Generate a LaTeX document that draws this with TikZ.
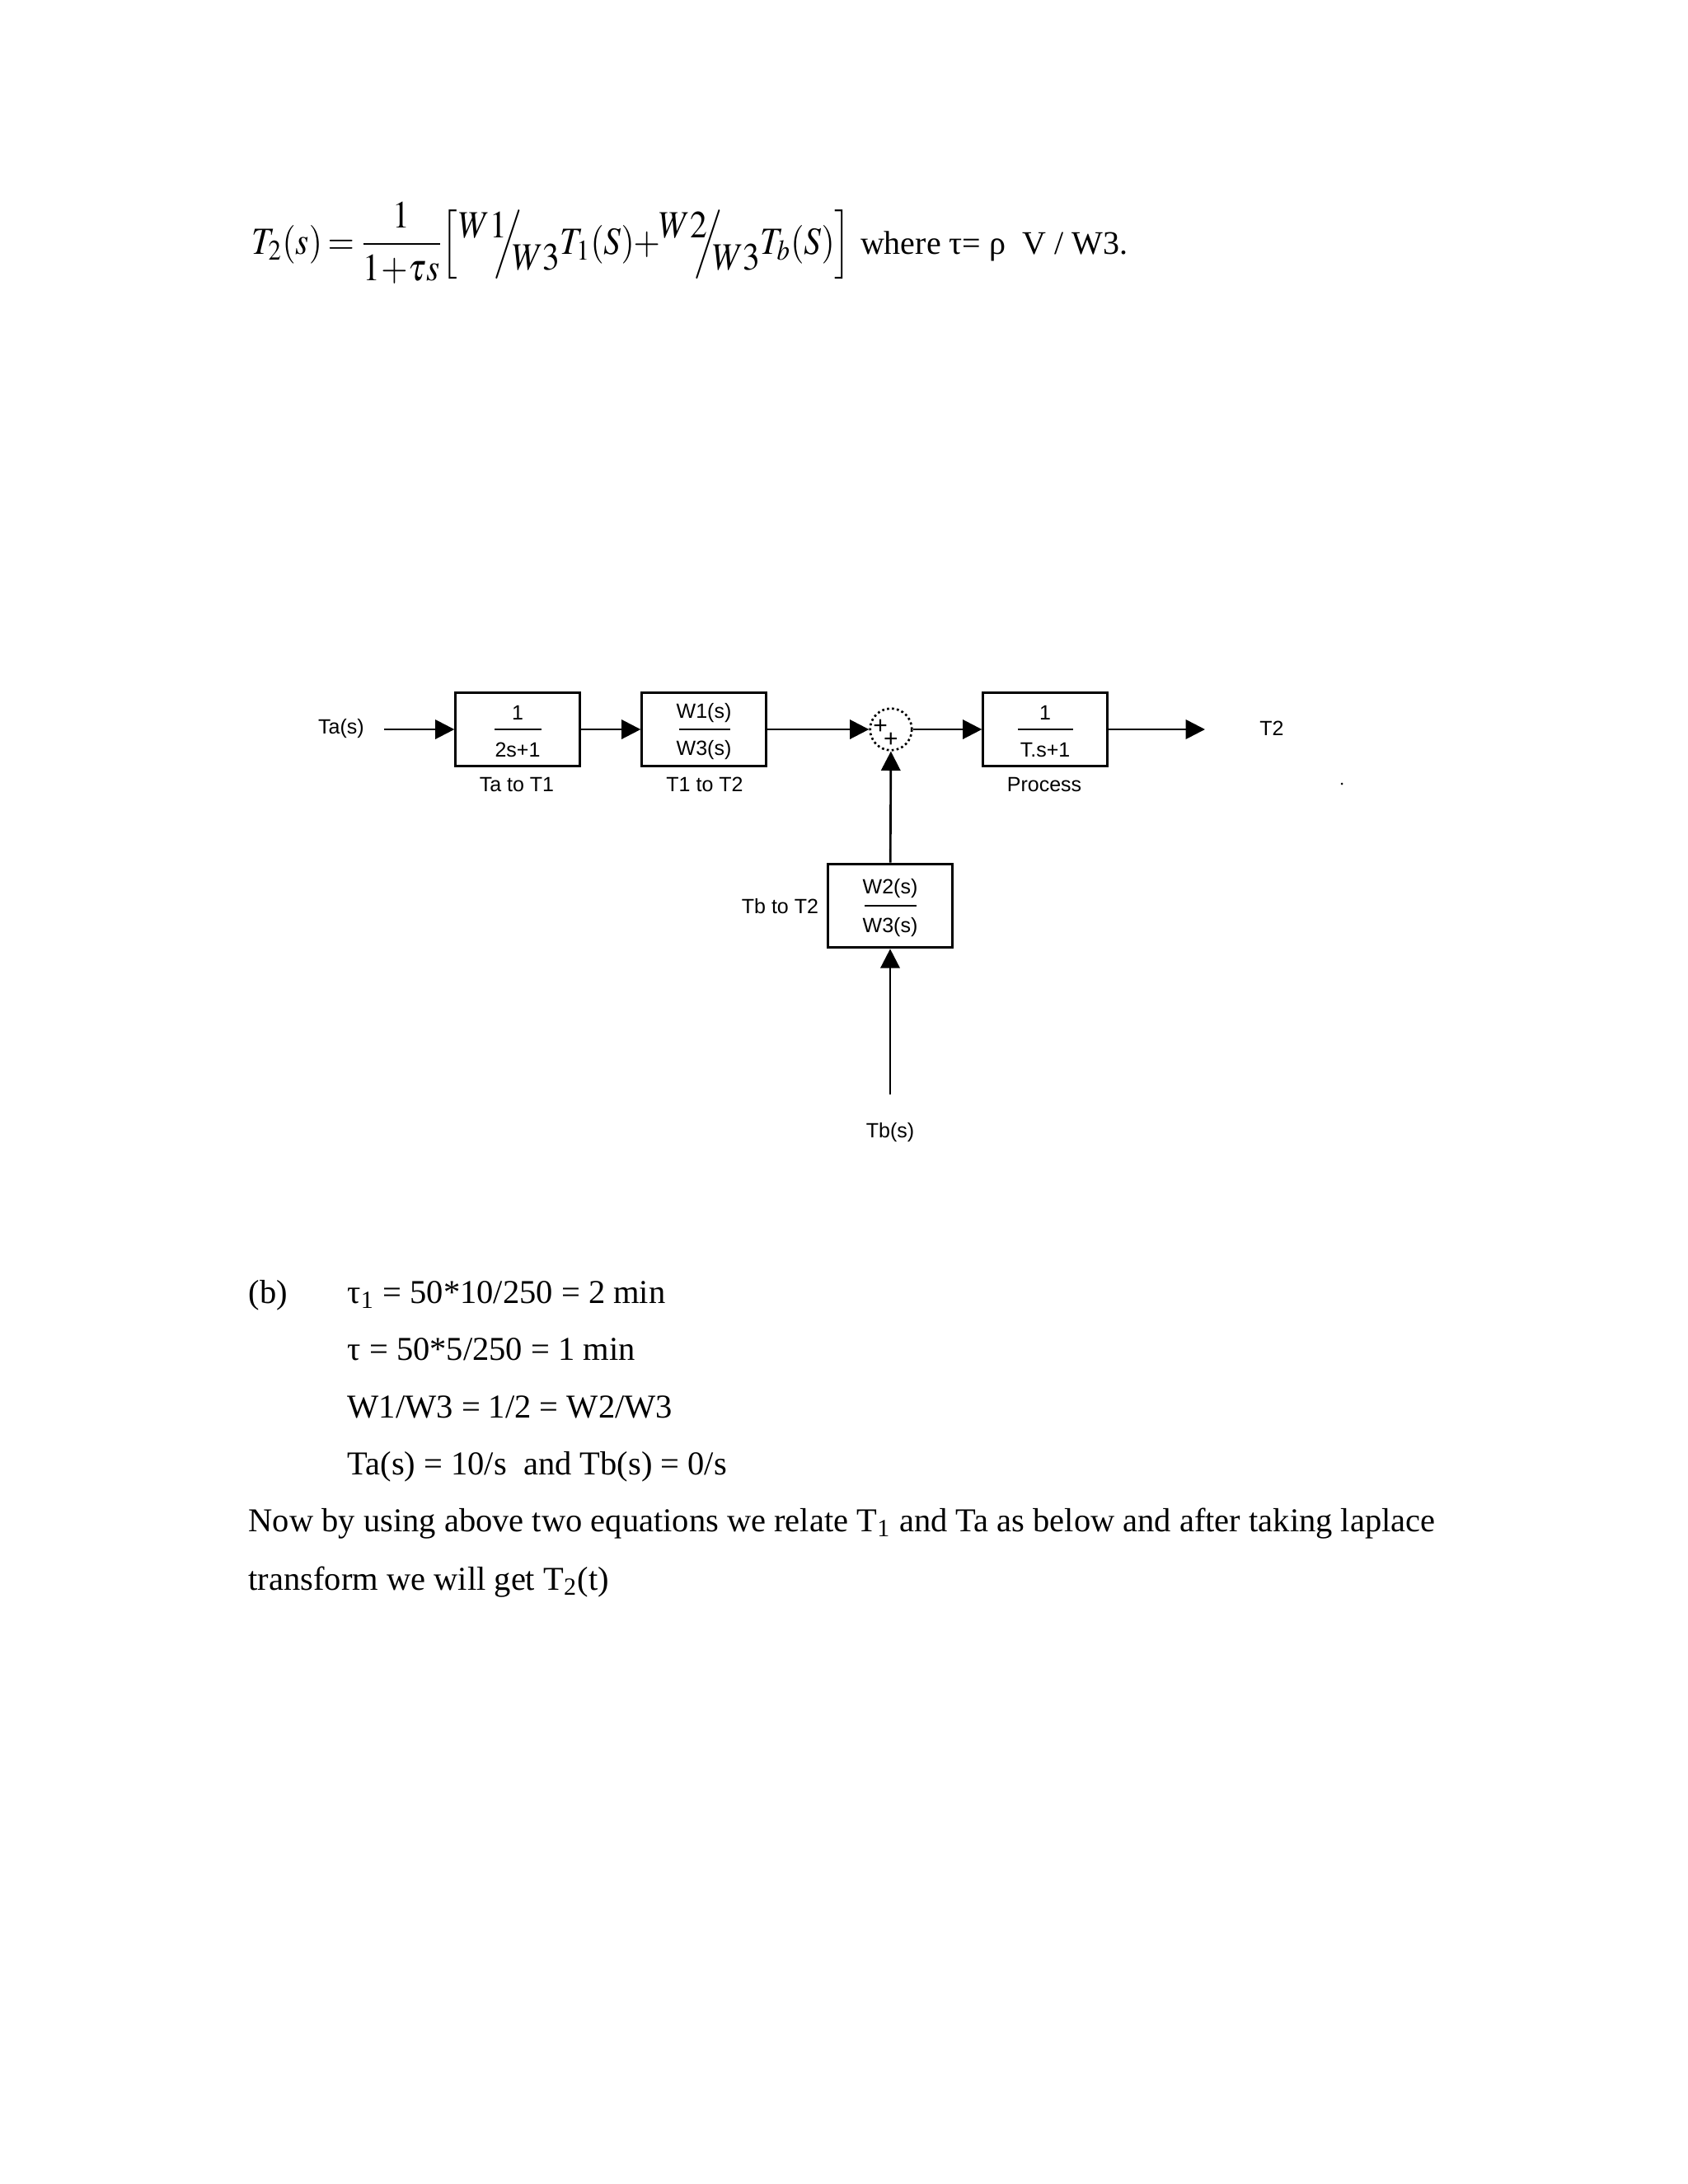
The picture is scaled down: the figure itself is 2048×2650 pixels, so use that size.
\documentclass[tikz,border=0pt]{standalone}
\usepackage{amsmath}
\usepackage{mathptmx}
\usepackage{fontspec}
\setmainfont{Liberation Serif}
\setsansfont{Liberation Sans}
\usetikzlibrary{arrows.meta}

\newcommand{\wfrac}[2]{\raisebox{0.9ex}{$#1$}\mkern-7mu\Big/\mkern-5mu\raisebox{-0.9ex}{$#2$}}

\tikzset{
  blk/.style={draw, line width=0.9pt, inner sep=0pt, minimum width=45.1pt, minimum height=26.9pt},
  lbl/.style={font=\sffamily\fontsize{7.5}{9}\selectfont, inner sep=1pt},
  plus/.style={font=\sffamily\fontsize{9}{10}\selectfont, inner sep=0pt},
  body/.style={anchor=base west, inner sep=0pt, font=\fontsize{12.15}{14}\selectfont},
  sig/.style={->, line width=0.8pt}
}

\begin{document}
\begin{tikzpicture}[x=0.010542cm, y=-0.010542cm, >={Triangle[length=7pt,width=7pt]}]
    \useasboundingbox (0,0) rectangle (2048,2650);
    % Equation for T2
    \node[anchor=base west, inner sep=0pt] (eqn) at (305,308)
      {\fontsize{14}{17}\selectfont\scalebox{0.89}[1]{$T_2(s)\mkern-1mu=\mkern-1mu\dfrac{1}{1\mkern-2mu+\mkern-2mu\tau s}\mkern-1mu\Bigl[\mkern1mu\wfrac{W1}{W3}T_1(S)\mkern-3mu+\mkern-3mu\wfrac{W2}{W3}T_b(S)\Bigr]$}\ \fontsize{12}{14}\selectfont where τ= ρ\ \ V / W3.};
    % Blocks
    \node[blk] (tat1) at (628,885) {};
    \node[lbl] at (628,865) {1}; \draw[line width=0.7pt] (600,885) -- (657,885);
    \node[lbl] at (628,910) {2s+1};
    \node[lbl] (tat1lab) at (627,952) {Ta to T1};
    \node[blk] (t1t2) at (854,885) {};
    \node[lbl] at (854,865) {W1(s)}; \draw[line width=0.7pt] (824,885) -- (886,885);
    \node[lbl] at (854,910) {W3(s)};
    \node[lbl] (t1t2lab) at (855,952) {T1 to T2};
    \node[blk] (proc) at (1268,885) {};
    \node[lbl] at (1268,865) {1}; \draw[line width=0.7pt] (1235,885) -- (1302,885);
    \node[lbl] at (1268,910) {T.s+1};
    \node[lbl] (proclab) at (1267,952) {Process};
    \node[blk, minimum width=45.4pt, minimum height=30.5pt] (tbt2) at (1080,1099) {};
    \node[lbl] at (1080,1078) {W2(s)}; \draw[line width=0.7pt] (1049,1099) -- (1112,1099);
    \node[lbl] at (1080,1125) {W3(s)};
    \node[lbl, anchor=east] (tbt2lab) at (997,1100) {Tb to T2};
    % Sum
    \node[draw, circle, densely dotted, line width=0.8pt, minimum size=15.2pt, inner sep=0pt] (sum) at (1081,885) {};
    \node[plus] at (1068,882) {+};
    \node[plus] at (1081,898) {+};
    % Signals
    \node[lbl] (tas) at (414,884) {Ta(s)};
    \node[lbl] (tout) at (1543,884) {T2};
    \node[lbl] (tbs) at (1080,1374) {Tb(s)};
    \coordinate (tain) at (466,885);
    \coordinate (t2end) at (1462,885);
    \coordinate (tbin) at (1080,1328);
    \draw[sig] (tain) -- (tat1);
    \draw[sig] (tat1) -- (t1t2);
    \draw[sig] (t1t2) -- (sum);
    \draw[sig] (sum) -- (proc);
    \draw[sig] (proc) -- (t2end);
    \draw[sig] (tbt2) -- (sum);
    \draw[sig] (tbin) -- (tbt2);
    \fill (1628,951) circle (0.45pt);
    % Part (b)
    \node[body] (partb) at (301,1581) {(b)};
    \node[body] (tau1) at (421,1581) {τ\textsubscript{1} = 50*10/250 = 2 min};
    \node[body] (tau) at (421,1650) {τ = 50*5/250 = 1 min};
    \node[body] (ratio) at (421,1720) {W1/W3 = 1/2 = W2/W3};
    \node[body] (inputs) at (421,1789) {Ta(s) = 10/s\ \ and Tb(s) = 0/s};
    \node[body] (line1) at (301,1858) {Now by using above two equations we relate T\textsubscript{1} and Ta as below and after taking laplace};
    \node[body] (line2) at (301,1929) {transform we will get T\textsubscript{2}(t)};
\end{tikzpicture}
\end{document}
